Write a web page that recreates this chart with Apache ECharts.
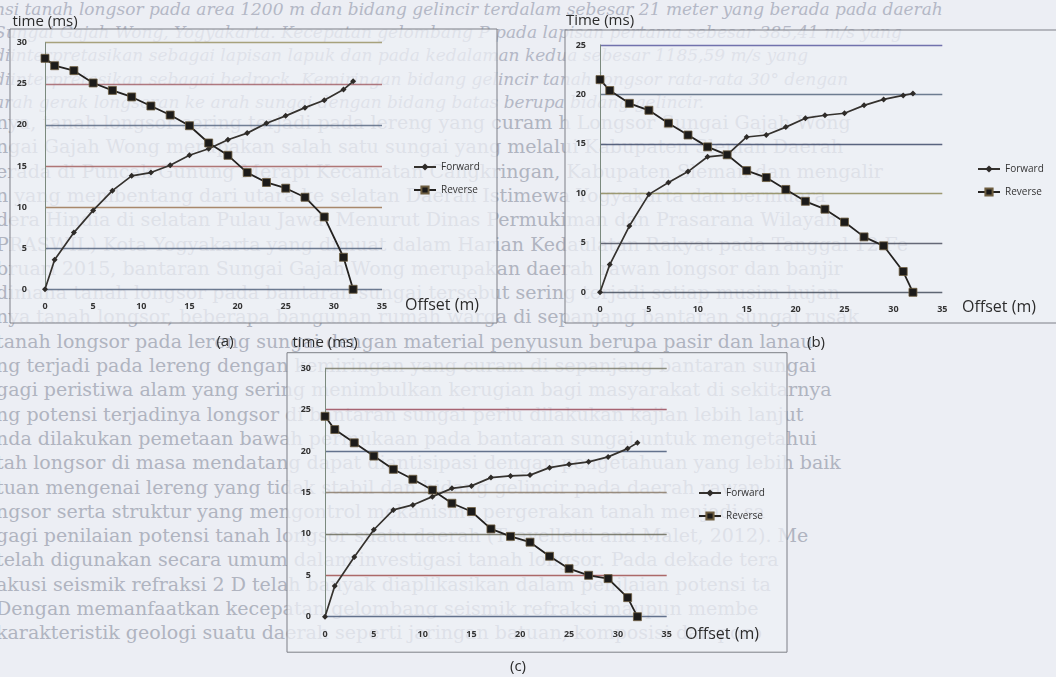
<!DOCTYPE html>
<html>
<head>
<meta charset="utf-8">
<script src="https://cdn.jsdelivr.net/npm/echarts@6/dist/echarts.min.js"></script>
<style>
html,body{margin:0;padding:0;background:#eceef4;overflow:hidden;}
#page{position:absolute;left:0;top:0;width:1056px;height:677px;overflow:hidden;}
#page div{position:absolute;white-space:nowrap;font-family:"DejaVu Serif",serif;color:#b0b4c0;}
#main{position:absolute;left:0;top:0;width:1056px;height:677px;}
</style>
</head>
<body>
<div id="page"></div>
<div id="main"></div>
<script>
// ---- data ----
const offsets = [0, 1, 3, 5, 7, 9, 11, 13, 15, 17, 19, 21, 23, 25, 27, 29, 31, 32];

const aForward = [0, 3.6, 6.9, 9.6, 12.0, 13.8, 14.2, 15.1, 16.3, 17.1, 18.2, 19.0, 20.2, 21.1, 22.1, 23.0, 24.3, 25.3];
const aReverse = [28.1, 27.2, 26.6, 25.1, 24.2, 23.4, 22.3, 21.2, 19.9, 17.8, 16.3, 14.2, 13.0, 12.3, 11.2, 8.8, 3.9, 0];

const bForward = [0, 2.8, 6.7, 9.9, 11.1, 12.2, 13.7, 13.9, 15.7, 15.9, 16.7, 17.6, 17.9, 18.1, 18.9, 19.5, 19.9, 20.1];
const bReverse = [21.5, 20.4, 19.1, 18.4, 17.1, 15.9, 14.7, 13.9, 12.3, 11.6, 10.4, 9.2, 8.4, 7.1, 5.6, 4.7, 2.1, 0];

const cForward = [0, 3.7, 7.2, 10.5, 12.9, 13.5, 14.5, 15.5, 15.8, 16.8, 17.0, 17.1, 18.0, 18.4, 18.7, 19.3, 20.3, 21.0];
const cReverse = [24.2, 22.6, 21.0, 19.4, 17.8, 16.6, 15.3, 13.7, 12.7, 10.6, 9.7, 9.0, 7.3, 5.8, 5.0, 4.6, 2.3, 0];

const seriesNames = ['Forward', 'Reverse'];
const panelLabels = ['(a)', '(b)', '(c)'];
const yTitles = ['time (ms)', 'Time (ms)', 'time (ms)'];
const xTitle = 'Offset (m)';
const yMax = [30, 25, 30];

// faint page text showing through the scan
const pageTextItalic = [
  'nsi tanah longsor pada area 1200 m dan bidang gelincir terdalam sebesar 21 meter yang berada pada daerah',
  'Sungai Gajah Wong, Yogyakarta. Kecepatan gelombang P pada lapisan pertama sebesar 385,41 m/s yang',
  'diinterpretasikan sebagai lapisan lapuk dan pada kedalaman kedua sebesar 1185,59 m/s yang',
  'diinterpretasikan sebagai bedrock. Kemiringan bidang gelincir tanah longsor rata-rata 30° dengan',
  'arah gerak longsoran ke arah sungai dengan bidang batas berupa bidang gelincir.'
];
const pageText = [
  'nya, tanah longsor sering terjadi pada lereng yang curam    h Longsor Sungai Gajah Wong',
  'ngai Gajah Wong merupakan salah satu sungai yang melalui Kabupaten Sleman Daerah',
  'erada di Puncak Gunung Merapi Kecamatan Cangkringan, Kabupaten Sleman dan mengalir',
  'n yang membentang dari utara ke selatan Daerah Istimewa Yogyakarta dan bermuara',
  'dera Hindia di selatan Pulau Jawa. Menurut Dinas Permukiman dan Prasarana Wilayah',
  'PRASWIL) Kota Yogyakarta yang dimuat dalam Harian Kedaulatan Rakyat pada Tanggal 12 Fe',
  'bruari 2015, bantaran Sungai Gajah Wong merupakan daerah rawan longsor dan banjir',
  'dimana tanah longsor pada bantaran sungai tersebut sering terjadi setiap musim hujan',
  'nya tanah longsor, beberapa bangunan rumah warga di sepanjang bantaran sungai rusak',
  'tanah longsor pada lereng sungai dengan material penyusun berupa pasir dan lanau',
  'ng terjadi pada lereng dengan kemiringan yang curam di sepanjang bantaran sungai',
  'gagi peristiwa alam yang sering menimbulkan kerugian bagi masyarakat di sekitarnya',
  'ng potensi terjadinya longsor di bantaran sungai perlu dilakukan kajian lebih lanjut',
  'nda dilakukan pemetaan bawah permukaan pada bantaran sungai untuk mengetahui',
  'tah longsor di masa mendatang dapat diantisipasi dengan pengetahuan yang lebih baik',
  'tuan mengenai lereng yang tidak stabil dan bidang gelincir pada daerah rawan',
  'ngsor serta struktur yang mengontrol mekanisme pergerakan tanah menjadi sa',
  'gagi penilaian potensi tanah longsor suatu daerah (Travelletti and Malet, 2012). Me',
  'telah digunakan secara umum dalam investigasi tanah longsor. Pada dekade tera',
  'akusi seismik refraksi 2 D telah banyak diaplikasikan dalam penilaian potensi ta',
  'Dengan memanfaatkan kecepatan gelombang seismik refraksi maupun membe',
  'karakteristik geologi suatu daerah seperti jaringan batuan, komposisi dan poro'
];

// ---- page background text (DOM, behind the chart canvas) ----
const page = document.getElementById('page');
pageTextItalic.forEach((t, k) => {
  const d = document.createElement('div');
  d.textContent = t;
  d.style.left = '-6px';
  d.style.top = (10 + 23.2 * k - 11) + 'px';
  d.style.fontSize = '17px';
  d.style.fontStyle = 'italic';
  d.style.color = '#b4b8c6';
  page.appendChild(d);
});
pageText.forEach((t, k) => {
  const d = document.createElement('div');
  d.textContent = t;
  d.style.left = '-4px';
  d.style.top = (123 + 24.3 * k - 12) + 'px';
  d.style.fontSize = '19px';
  page.appendChild(d);
});

// ---- layout ----
const grids = [
  {left: 45, top: 42.7, width: 337, height: 246.6},
  {left: 600, top: 45, width: 342.3, height: 247.3},
  {left: 325, top: 368.3, width: 341.7, height: 248.4}
];
const frames = [
  {x: 10, y: 29, width: 487, height: 294},
  {x: 565, y: 30, width: 495, height: 293},
  {x: 287, y: 352.7, width: 500, height: 299.5}
];
const splitColors = [
  ['#56657f', '#56657f', '#9b7452', '#a35f5f', '#5a6a84', '#a3626a', '#9a9366'],
  ['#444c5c', '#4c5060', '#8e8a5a', '#3e4a6a', '#56667e', '#5a5aa0'],
  ['#4a5a7a', '#a05050', '#6a6a5a', '#8a7a6a', '#4a5a7a', '#9a4a5a', '#7a7a6a']
];
const yLabelMargin = [18, 14, 14];
const yNameGap = [13, 17, 18];
const legendPos = [{left: 408, top: 157}, {left: 972, top: 159}, {left: 693, top: 483}];
const offsetPos = [[405, 305], [962, 307], [685, 634]];
const labelPos = [[225, 342], [816, 343], [518, 667]];

const panels = [[aForward, aReverse], [bForward, bReverse], [cForward, cReverse]];

const series = [];
panels.forEach((p, i) => {
  series.push({
    name: seriesNames[0], type: 'line', xAxisIndex: i, yAxisIndex: i, z: 4,
    data: offsets.map((x, j) => [x, p[0][j]]),
    symbol: 'diamond', symbolSize: 6,
    lineStyle: {color: '#35322e', width: 1.7},
    itemStyle: {color: '#2e2b28'},
    emphasis: {disabled: true}, animation: false
  });
  series.push({
    name: seriesNames[1], type: 'line', xAxisIndex: i, yAxisIndex: i, z: 4,
    data: offsets.map((x, j) => [x, p[1][j]]),
    symbol: 'rect', symbolSize: 8,
    lineStyle: {color: '#242220', width: 1.8},
    itemStyle: {color: '#1c1b1a', borderColor: '#6e5e40', borderWidth: 0.8},
    emphasis: {disabled: true}, animation: false
  });
});

const graphic = [];
frames.forEach(f => {
  graphic.push({type: 'rect', shape: f, silent: true,
    style: {fill: 'rgba(238,240,246,0.74)', stroke: '#7d7f86', lineWidth: 1}});
});
offsetPos.forEach(p => {
  graphic.push({type: 'text', x: p[0], y: p[1], silent: true,
    style: {text: xTitle, fill: '#2c2c2c', font: '16px "Open Sans"', textVerticalAlign: 'middle'}});
});
labelPos.forEach((p, i) => {
  graphic.push({type: 'text', x: p[0], y: p[1], silent: true,
    style: {text: panelLabels[i], fill: '#2c2c2c', font: '15px "Open Sans"', textAlign: 'center', textVerticalAlign: 'middle'}});
});

const option = {
  backgroundColor: 'transparent',
  animation: false,
  grid: grids.map(g => Object.assign({containLabel: false}, g)),
  xAxis: grids.map((g, i) => ({
    type: 'value', gridIndex: i, min: 0, max: 35, interval: 5, z: 3,
    axisLine: {show: false}, axisTick: {show: false}, splitLine: {show: false},
    axisLabel: {color: '#333', fontSize: 9, fontWeight: 'bold', fontFamily: 'Open Sans', margin: 13}
  })),
  yAxis: grids.map((g, i) => ({
    type: 'value', gridIndex: i, min: 0, max: yMax[i], interval: 5, z: 3,
    name: yTitles[i], nameLocation: 'end', nameGap: yNameGap[i],
    nameTextStyle: {color: '#2c2c2c', fontSize: 15, fontFamily: 'Open Sans'},
    axisLine: {show: true, lineStyle: {color: '#7b8a7e', width: 1}},
    axisTick: {show: false},
    splitLine: {show: true, lineStyle: {color: splitColors[i], width: 1.3, opacity: 0.85}},
    axisLabel: {color: '#333', fontSize: 9, fontWeight: 'bold', fontFamily: 'Open Sans', margin: yLabelMargin[i]}
  })),
  legend: legendPos.map(p => ({
    data: seriesNames, orient: 'vertical', left: p.left, top: p.top,
    itemWidth: 22, itemHeight: 9, itemGap: 13, selectedMode: false,
    textStyle: {color: '#333', fontSize: 10, fontFamily: 'Open Sans'}
  })),
  graphic: {elements: graphic, z: 0},
  series: series
};

const chart = echarts.init(document.getElementById('main'), null, {renderer: 'canvas'});
chart.setOption(option);
</script>
</body>
</html>
